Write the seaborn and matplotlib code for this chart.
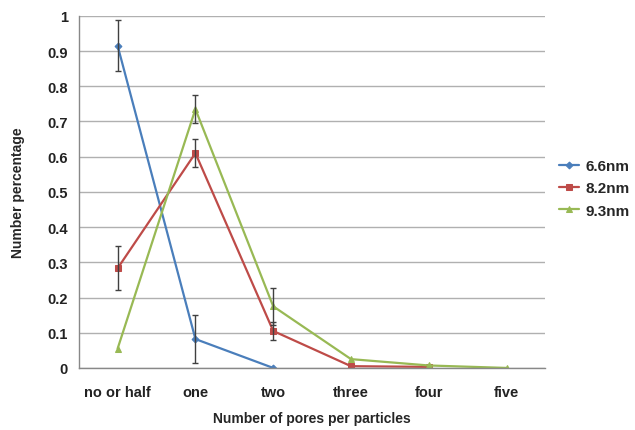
import numpy as np
import pandas as pd
import matplotlib
matplotlib.use("Agg")
import matplotlib.pyplot as plt
import seaborn as sns

# categories on the x axis
categories = ["no or half", "one", "two", "three", "four", "five"]

# series values
vals_66 = [0.915, 0.082, 0.0]
vals_82 = [0.283, 0.610, 0.105, 0.005, 0.003]
vals_93 = [0.055, 0.735, 0.175, 0.025, 0.007, 0.0]

# error bar half widths (None = no bar)
err_66 = [0.072, 0.067, None]
err_82 = [0.063, 0.040, 0.025, None, None]
err_93 = [None, 0.040, 0.052, None, None, None]

series = ["6.6nm", "8.2nm", "9.3nm"]
colors = ["#4A7EBB", "#BE4B48", "#98B954"]
markers = ["D", "s", "^"]
msizes = [3.5, 5, 5]

rows = []
for name, vals in zip(series, [vals_66, vals_82, vals_93]):
    for i, v in enumerate(vals):
        rows.append({"pos": i, "value": v, "series": name})
df = pd.DataFrame(rows)

sns.set_style("white")
plt.rcParams["font.family"] = ["Liberation Sans", "DejaVu Sans"]

fig = plt.figure(figsize=(6.35, 4.31), dpi=100)
ax = fig.add_axes([0.124, 0.144, 0.735, 0.817])

for name, c, m, ms, errs in zip(series, colors, markers, msizes, [err_66, err_82, err_93]):
    sub = df[df["series"] == name]
    sns.lineplot(data=sub, x="pos", y="value", ax=ax, color=c, marker=m,
                 markersize=ms, markeredgecolor=c, linewidth=1.6, label=name)
    for p, v, e in zip(sub["pos"], sub["value"], errs):
        if e is not None:
            ax.errorbar(p, v, yerr=e, fmt="none", ecolor="#404040",
                        elinewidth=1.0, capsize=2.5, capthick=1.0, zorder=5)

ax.set_xlim(-0.5, len(categories) - 0.5)
ax.set_ylim(0, 1)
ax.set_yticks(np.arange(0, 1.01, 0.1))
ax.set_yticklabels(["0"] + [f"{t:.1f}" for t in np.arange(0.1, 0.95, 0.1)] + ["1"])
ax.set_xticks(range(len(categories)))
ax.set_xticklabels(categories)
ax.set_xticks(np.arange(-0.5, len(categories), 1.0), minor=True)
ax.tick_params(axis="x", which="major", length=0, pad=12)
ax.tick_params(axis="x", which="minor", length=4, color="#888888", direction="out")
ax.tick_params(axis="y", length=4, color="#888888", direction="out", pad=4)
for lab in ax.get_xticklabels() + ax.get_yticklabels():
    lab.set_fontweight("bold")
    lab.set_fontsize(10.5)
    lab.set_color("#222222")

ax.yaxis.grid(True, color="#b0b0b0", linewidth=1.0)
ax.xaxis.grid(False)
for s in ["top", "right"]:
    ax.spines[s].set_visible(False)
for s in ["left", "bottom"]:
    ax.spines[s].set_color("#888888")
    ax.spines[s].set_linewidth(1.0)

ax.set_xlabel("Number of pores per particles", fontsize=10, fontweight="bold", labelpad=9)
ax.set_ylabel("Number percentage", fontsize=10, fontweight="bold", labelpad=16)

leg = ax.legend(loc="center left", bbox_to_anchor=(1.0, 0.51), frameon=False,
                handlelength=1.3, handletextpad=0.4, labelspacing=0.55,
                prop={"weight": "bold", "size": 11})

fig.savefig("out.png", dpi=100)
